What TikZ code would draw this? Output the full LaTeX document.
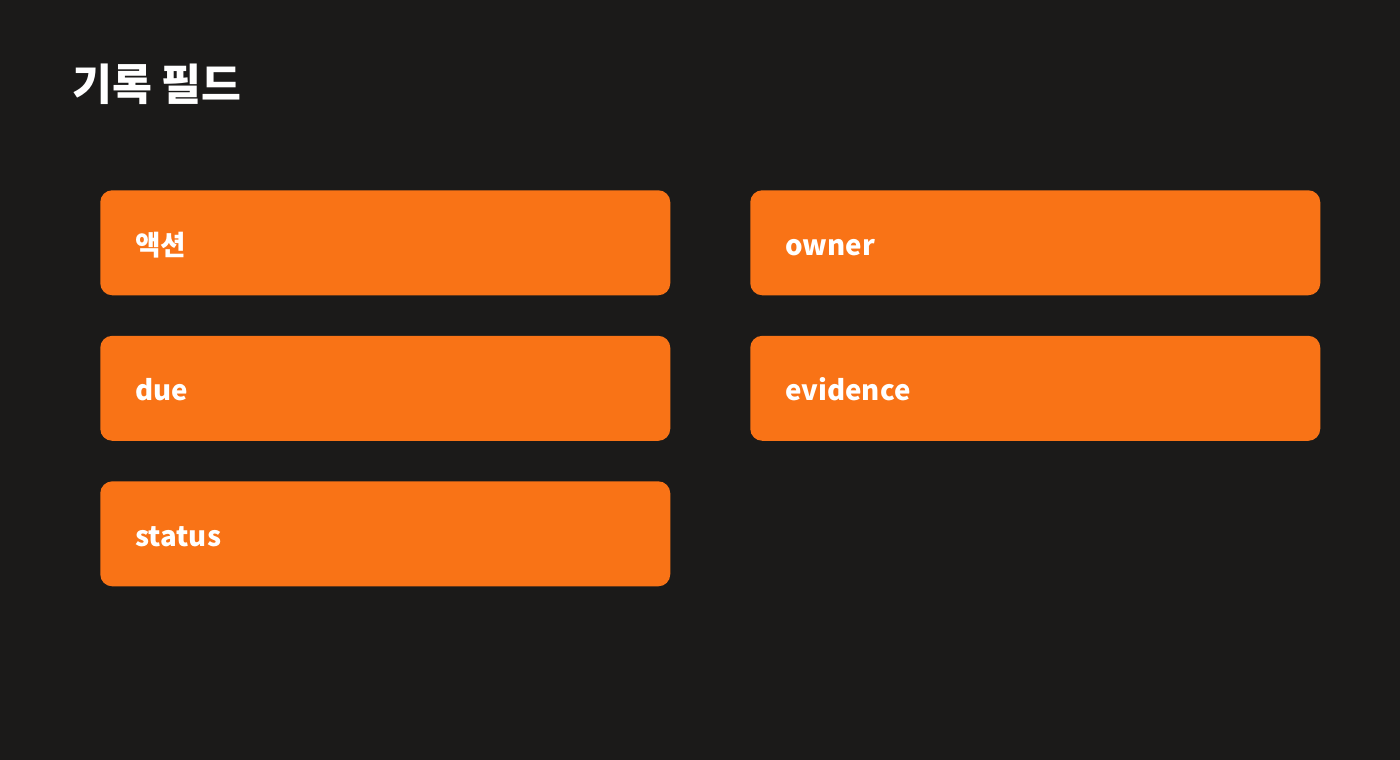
\documentclass[tikz,border=0pt]{standalone}
\usepackage{fontspec}
\setmainfont{Noto Sans CJK KR}
\usepackage{tikz}
\usetikzlibrary{positioning}

\definecolor{pagebg}{HTML}{1B1A19}
\definecolor{fieldorange}{HTML}{F97316}

\tikzset{
  fieldbox/.style={rectangle, rounded corners=9pt, fill=fieldorange, text=white,
    minimum width=427.5pt, minimum height=78.75pt, inner xsep=26.25pt, inner ysep=0pt,
    text width=375pt, text height=20pt, text depth=1.25pt, align=left,
    font=\fontsize{20.75}{24}\selectfont\bfseries}
}

\begin{document}
\begin{tikzpicture}[x=0.75pt, y=-0.75pt]
        \fill [pagebg] (0,0) rectangle (1400,760);
        \useasboundingbox (0,0) rectangle (1400,760);
        \node [anchor=west, inner sep=0pt, text=white, font=\fontsize{32.5}{38}\selectfont\bfseries] (title) at (72,84) {기록 필드};
        \node [fieldbox, anchor=north west] (action) at (100,190) {액션};
        \node [fieldbox, anchor=north west] (owner) at (750,190) {owner};
        \node [fieldbox, below=30pt of action] (due) {due};
        \node [fieldbox, below=30pt of owner] (evidence) {evidence};
        \node [fieldbox, below=30pt of due] (status) {status};
    \end{tikzpicture}
\end{document}
